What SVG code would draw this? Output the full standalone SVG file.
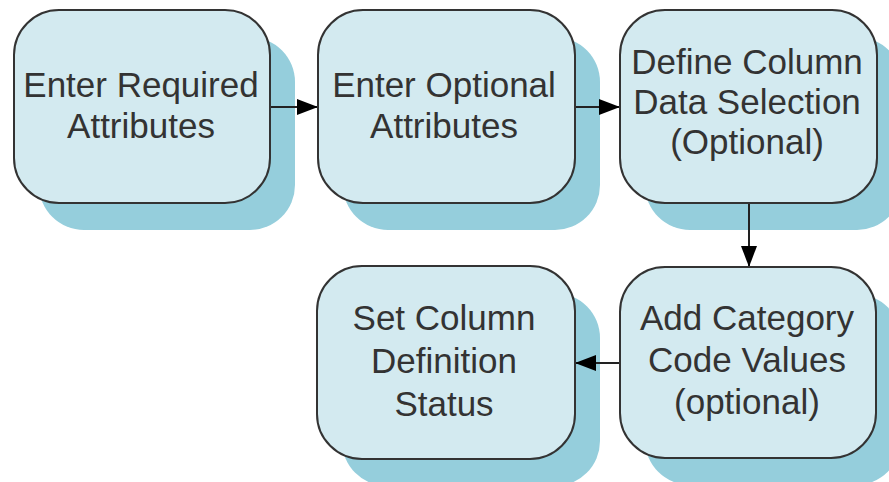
<svg xmlns="http://www.w3.org/2000/svg" width="889" height="482" viewBox="0 0 889 482">
  <style>
    .shadow { fill: #95cedc; }
    .box { fill: #d3eaf0; stroke: #333333; stroke-width: 2; }
    .label { font-family: "Liberation Sans", Arial, sans-serif; font-size: 35px; fill: #333333; text-anchor: middle; }
    .link { stroke: #222222; stroke-width: 2; fill: none; marker-end: url(#arrow); }
  </style>
  <defs>
    <marker id="arrow" markerUnits="userSpaceOnUse" markerWidth="22" markerHeight="18" refX="21" refY="9" orient="auto">
      <path d="M0,1 L21,9 L0,17 Z" fill="#000000"/>
    </marker>
  </defs>

  <!-- drop shadows -->
  <g id="shadows">
    <rect class="shadow" x="39" y="37" width="256" height="193" rx="45"/>
    <rect class="shadow" x="343" y="37" width="257" height="193" rx="45"/>
    <rect class="shadow" x="645" y="37" width="257" height="193" rx="45"/>
    <rect class="shadow" x="645" y="294" width="256" height="191" rx="45"/>
    <rect class="shadow" x="342" y="293" width="258" height="193" rx="45"/>
  </g>

  <!-- connectors -->
  <g id="connectors">
    <line class="link" x1="270" y1="107" x2="318" y2="107"/>
    <line class="link" x1="575" y1="107" x2="620" y2="107"/>
    <line class="link" x1="749" y1="203" x2="749" y2="267"/>
    <line class="link" x1="620" y1="363" x2="575" y2="363"/>
  </g>

  <g id="enter-required">
    <rect class="box" x="14" y="10" width="256" height="193" rx="45"/>
    <text class="label" x="141" y="97">Enter Required</text>
    <text class="label" x="141" y="138">Attributes</text>
  </g>

  <g id="enter-optional">
    <rect class="box" x="318" y="10" width="257" height="193" rx="45"/>
    <text class="label" x="444" y="97">Enter Optional</text>
    <text class="label" x="444" y="138">Attributes</text>
  </g>

  <g id="define-column-data">
    <rect class="box" x="620" y="10" width="257" height="193" rx="45"/>
    <text class="label" x="747" y="74">Define Column</text>
    <text class="label" x="747" y="114">Data Selection</text>
    <text class="label" x="747" y="154">(Optional)</text>
  </g>

  <g id="add-category-code">
    <rect class="box" x="620" y="267" width="256" height="191" rx="45"/>
    <text class="label" x="747" y="330">Add Category</text>
    <text class="label" x="747" y="372">Code Values</text>
    <text class="label" x="747" y="414">(optional)</text>
  </g>

  <g id="set-column-status">
    <rect class="box" x="317" y="266" width="258" height="193" rx="45"/>
    <text class="label" x="444" y="330">Set Column</text>
    <text class="label" x="444" y="373">Definition</text>
    <text class="label" x="444" y="416">Status</text>
  </g>
</svg>
